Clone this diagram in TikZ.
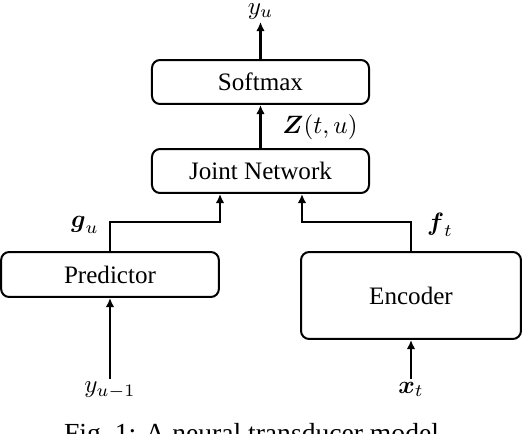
\documentclass[tikz,border=0pt]{standalone}
\usepackage{fontspec}
\setmainfont{Liberation Serif}
\usepackage{amsmath}
\usepackage{amssymb}
\usetikzlibrary{arrows.meta}

\begin{document}
\begin{tikzpicture}[x=0.014cm,y=-0.014cm]
\tikzstyle{block}=[draw,line width=0.8pt,rounded corners=3.2pt,minimum width=3.04cm,minimum height=0.616cm,inner sep=0pt]
\tikzstyle{lab}=[inner sep=1pt]
\tikzstyle{arr}=[line width=0.8pt,-{Latex[length=3.6pt,width=3.4pt]}]
\useasboundingbox (0,0) rectangle (524,434);
\node [block] (softmax) at (260.5,82) {Softmax};
\node [block] (joint) at (260.5,171) {Joint Network};
\node [block,minimum width=3.05cm,minimum height=0.63cm] (pred) at (110,274.5) {Predictor};
\node [block,minimum width=3.08cm,minimum height=1.218cm] (enc) at (411,295.5) {Encoder};
\node [lab,anchor=south] (yu) at (260.5,22) {$y_u$};
\node [lab] (zout) at (320,127) {$\boldsymbol{Z}(t,u)$};
\node [lab] (gu) at (85,225) {$\boldsymbol{g}_u$};
\node [lab] (ft) at (440,225) {$\boldsymbol{f}_t$};
\node [lab,anchor=north] (yprev) at (110,379) {$y_{u-1}$};
\node [lab,anchor=north] (xt) at (411,379) {$\boldsymbol{x}_t$};
\node [lab,anchor=north,font=\fontsize{11}{13}\selectfont] (cap) at (255,420) {Fig.~1: A neural transducer model.};
\draw [arr] (softmax.north) -- (yu.south);
\draw [arr] (joint.north) -- (softmax.south);
\draw [arr] (pred.north) -- ++(0,-29) -| ([xshift=-0.567cm]joint.south);
\draw [arr] (enc.north) -- ++(0,-29) -| ([xshift=0.581cm]joint.south);
\draw [arr] (yprev.north) -- (pred.south);
\draw [arr] (xt.north) -- (enc.south);
\end{tikzpicture}
\end{document}
